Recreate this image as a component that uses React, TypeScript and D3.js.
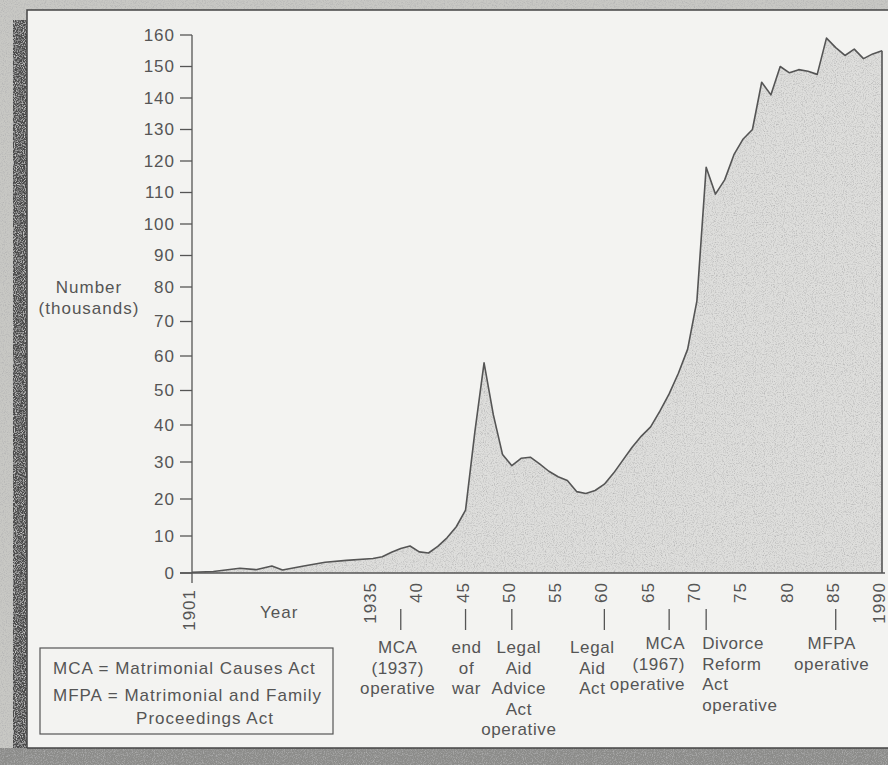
import * as d3 from "d3";

// Divorce petitions filed, England & Wales (thousands)
const years = [
  1901, 1905, 1910, 1913, 1916, 1918, 1922, 1926, 1930, 1935,
  1936, 1937, 1938, 1939, 1940, 1941, 1942, 1943, 1944, 1945,
  1946, 1947, 1948, 1949, 1950, 1951, 1952, 1953, 1954, 1955,
  1956, 1957, 1958, 1959, 1960, 1961, 1962, 1963, 1964, 1965,
  1966, 1967, 1968, 1969, 1970, 1971, 1972, 1973, 1974, 1975,
  1976, 1977, 1978, 1979, 1980, 1981, 1982, 1983, 1984, 1985,
  1986, 1987, 1988, 1989, 1990,
];
const petitions = [
  0.2, 0.4, 1.3, 0.9, 1.9, 0.8, 1.9, 2.9, 3.4, 3.9,
  4.4, 5.6, 6.6, 7.3, 5.7, 5.4, 7.2, 9.5, 12.5, 17,
  38, 58, 43, 32, 29, 31, 31.3, 29.5, 27.5, 26,
  25, 22, 21.5, 22.3, 24, 27, 30.5, 34, 37, 39.5,
  44, 49, 55, 62, 76, 118, 109.5, 114, 122, 127,
  130, 145, 141, 150, 148, 149, 148.5, 147.5, 159, 156,
  153.5, 155.5, 152.5, 154, 155,
];

const yTicks = [0, 10, 20, 30, 40, 50, 60, 70, 80, 90, 100, 110, 120, 130, 140, 150, 160];
const xTickYears = [1901, 1935, 1940, 1945, 1950, 1955, 1960, 1965, 1970, 1975, 1980, 1985, 1990];
const xTickLabels = ["1901", "1935", "40", "45", "50", "55", "60", "65", "70", "75", "80", "85", "1990"];

const eventYears = [1938, 1945, 1950, 1960, 1967, 1971, 1985];
const eventLabels = [
  ["MCA", "(1937)", "operative"],
  ["end", "of", "war"],
  ["Legal", "Aid", "Advice", "Act", "operative"],
  ["Legal", "Aid", "Act"],
  ["MCA", "(1967)", "operative"],
  ["Divorce", "Reform", "Act", "operative"],
  ["MFPA", "operative"],
];

const legendLines = ["MCA = Matrimonial Causes Act", "MFPA = Matrimonial and Family", "Proceedings Act"];

const W = 888;
const H = 765;
const INK = "#555";
const FONT = "'Liberation Sans', Arial, sans-serif";

export default function App() {
  const x = d3.scaleLinear().domain([1901, 1935, 1990]).range([192, 373, 882]);
  // the scan is stretched a little towards the bottom, so the value axis is piecewise
  const y = d3.scaleLinear().domain([0, 40, 80, 120, 160]).range([573, 425, 287, 161, 35]);

  const data = years.map((yr, i) => ({ yr, v: petitions[i] }));
  const area = d3
    .area<{ yr: number; v: number }>()
    .x((d) => x(d.yr))
    .y0(y(0))
    .y1((d) => y(d.v));
  const line = d3
    .line<{ yr: number; v: number }>()
    .x((d) => x(d.yr))
    .y((d) => y(d.v));
  const last = data[data.length - 1];

  // where each event caption sits relative to its tick
  const eventLayout = [
    { anchor: "middle", dx: -3, top: 653 },
    { anchor: "middle", dx: 1, top: 653 },
    { anchor: "middle", dx: 7, top: 653 },
    { anchor: "middle", dx: -12, top: 653 },
    { anchor: "end", dx: 16, top: 649 },
    { anchor: "start", dx: -4, top: 649 },
    { anchor: "middle", dx: -4, top: 649 },
  ];
  const rowH = 20.5;

  return (
    <svg
      width={W}
      height={H}
      viewBox={`0 0 ${W} ${H}`}
      style={{ position: "absolute", left: 0, top: 0, display: "block" }}
      fontFamily={FONT}
    >
      <defs>
        <filter id="grain" x="0%" y="0%" width="100%" height="100%">
          <feTurbulence type="fractalNoise" baseFrequency="0.9" numOctaves="2" seed="4" result="n" />
          <feColorMatrix
            in="n"
            type="matrix"
            values="0 0 0 0 0.45  0 0 0 0 0.45  0 0 0 0 0.45  2.2 0 0 0 -1.0"
            result="s"
          />
          <feComposite in="s" in2="SourceGraphic" operator="in" result="c" />
          <feMerge>
            <feMergeNode in="SourceGraphic" />
            <feMergeNode in="c" />
          </feMerge>
        </filter>
        <filter id="grainLight" x="0%" y="0%" width="100%" height="100%">
          <feTurbulence type="fractalNoise" baseFrequency="0.9" numOctaves="2" seed="9" result="n" />
          <feColorMatrix
            in="n"
            type="matrix"
            values="0 0 0 0 0.85  0 0 0 0 0.85  0 0 0 0 0.85  1.8 0 0 0 -0.8"
            result="s"
          />
          <feComposite in="s" in2="SourceGraphic" operator="in" result="c" />
          <feMerge>
            <feMergeNode in="SourceGraphic" />
            <feMergeNode in="c" />
          </feMerge>
        </filter>
      </defs>

      {/* scanned page around the figure */}
      <rect x={0} y={0} width={W} height={H} fill="#c8c8c4" filter="url(#grain)" />
      <rect x={13} y={20} width={14} height={730} fill="#4c4c4c" filter="url(#grainLight)" />
      <rect x={27} y={10} width={W - 27} height={738} fill="#f3f3f1" />
      <rect x={0} y={748} width={W} height={17} fill="#8c8c8a" filter="url(#grain)" />
      <path d={`M27,748V10H${W}`} fill="none" stroke="#444" strokeWidth={1.5} />
      <line x1={27} x2={W} y1={748} y2={748} stroke="#444" strokeWidth={1.5} />

      {/* area */}
      <path d={area(data) ?? ""} fill="#dededc" filter="url(#grain)" />
      <path d={line(data) ?? ""} fill="none" stroke={INK} strokeWidth={1.6} strokeLinejoin="round" />
      <line x1={x(last.yr)} x2={x(last.yr)} y1={y(last.v)} y2={y(0)} stroke={INK} strokeWidth={1.6} />

      {/* value axis */}
      <line x1={192} x2={192} y1={y(160)} y2={583} stroke={INK} strokeWidth={1.3} />
      {yTicks.map((t) => (
        <g key={t}>
          <line x1={180} x2={192} y1={y(t)} y2={y(t)} stroke={INK} strokeWidth={1.3} />
          <text x={175} y={y(t)} dy="0.35em" textAnchor="end" fontSize={17} letterSpacing={1} fill={INK}>
            {t}
          </text>
        </g>
      ))}
      <text x={89} y={293} textAnchor="middle" fontSize={17} letterSpacing={1} fill={INK}>
        Number
      </text>
      <text x={89} y={314} textAnchor="middle" fontSize={17} letterSpacing={1} fill={INK}>
        (thousands)
      </text>

      {/* year axis */}
      <line x1={180} x2={885} y1={y(0)} y2={y(0)} stroke={INK} strokeWidth={1.6} />
      {xTickYears.map((yr, i) => (
        <text
          key={yr}
          transform={`translate(${x(yr)},${i === 0 ? 589 : 582}) rotate(-90)`}
          dy="0.18em"
          textAnchor="end"
          fontSize={17}
          letterSpacing={1}
          fill={INK}
        >
          {xTickLabels[i]}
        </text>
      ))}
      <text x={260} y={618} fontSize={17} letterSpacing={1} fill={INK}>
        Year
      </text>

      {/* events */}
      {eventYears.map((yr, i) => {
        const lay = eventLayout[i];
        return (
          <g key={i}>
            <line x1={x(yr)} x2={x(yr)} y1={609} y2={630} stroke={INK} strokeWidth={1.3} />
            {eventLabels[i].map((s, j) => (
              <text
                key={j}
                x={x(yr) + lay.dx}
                y={lay.top + j * rowH}
                textAnchor={lay.anchor}
                fontSize={17}
                letterSpacing={0.6}
                fill={INK}
              >
                {s}
              </text>
            ))}
          </g>
        );
      })}

      {/* key */}
      <rect x={40} y={648} width={293} height={86} fill="none" stroke="#555" strokeWidth={1.2} />
      <text x={53} y={674} fontSize={17} letterSpacing={1} fill={INK}>
        {legendLines[0]}
      </text>
      <text x={53} y={701} fontSize={17} letterSpacing={1} fill={INK}>
        {legendLines[1]}
      </text>
      <text x={205} y={724} textAnchor="middle" fontSize={17} letterSpacing={1} fill={INK}>
        {legendLines[2]}
      </text>
    </svg>
  );
}
